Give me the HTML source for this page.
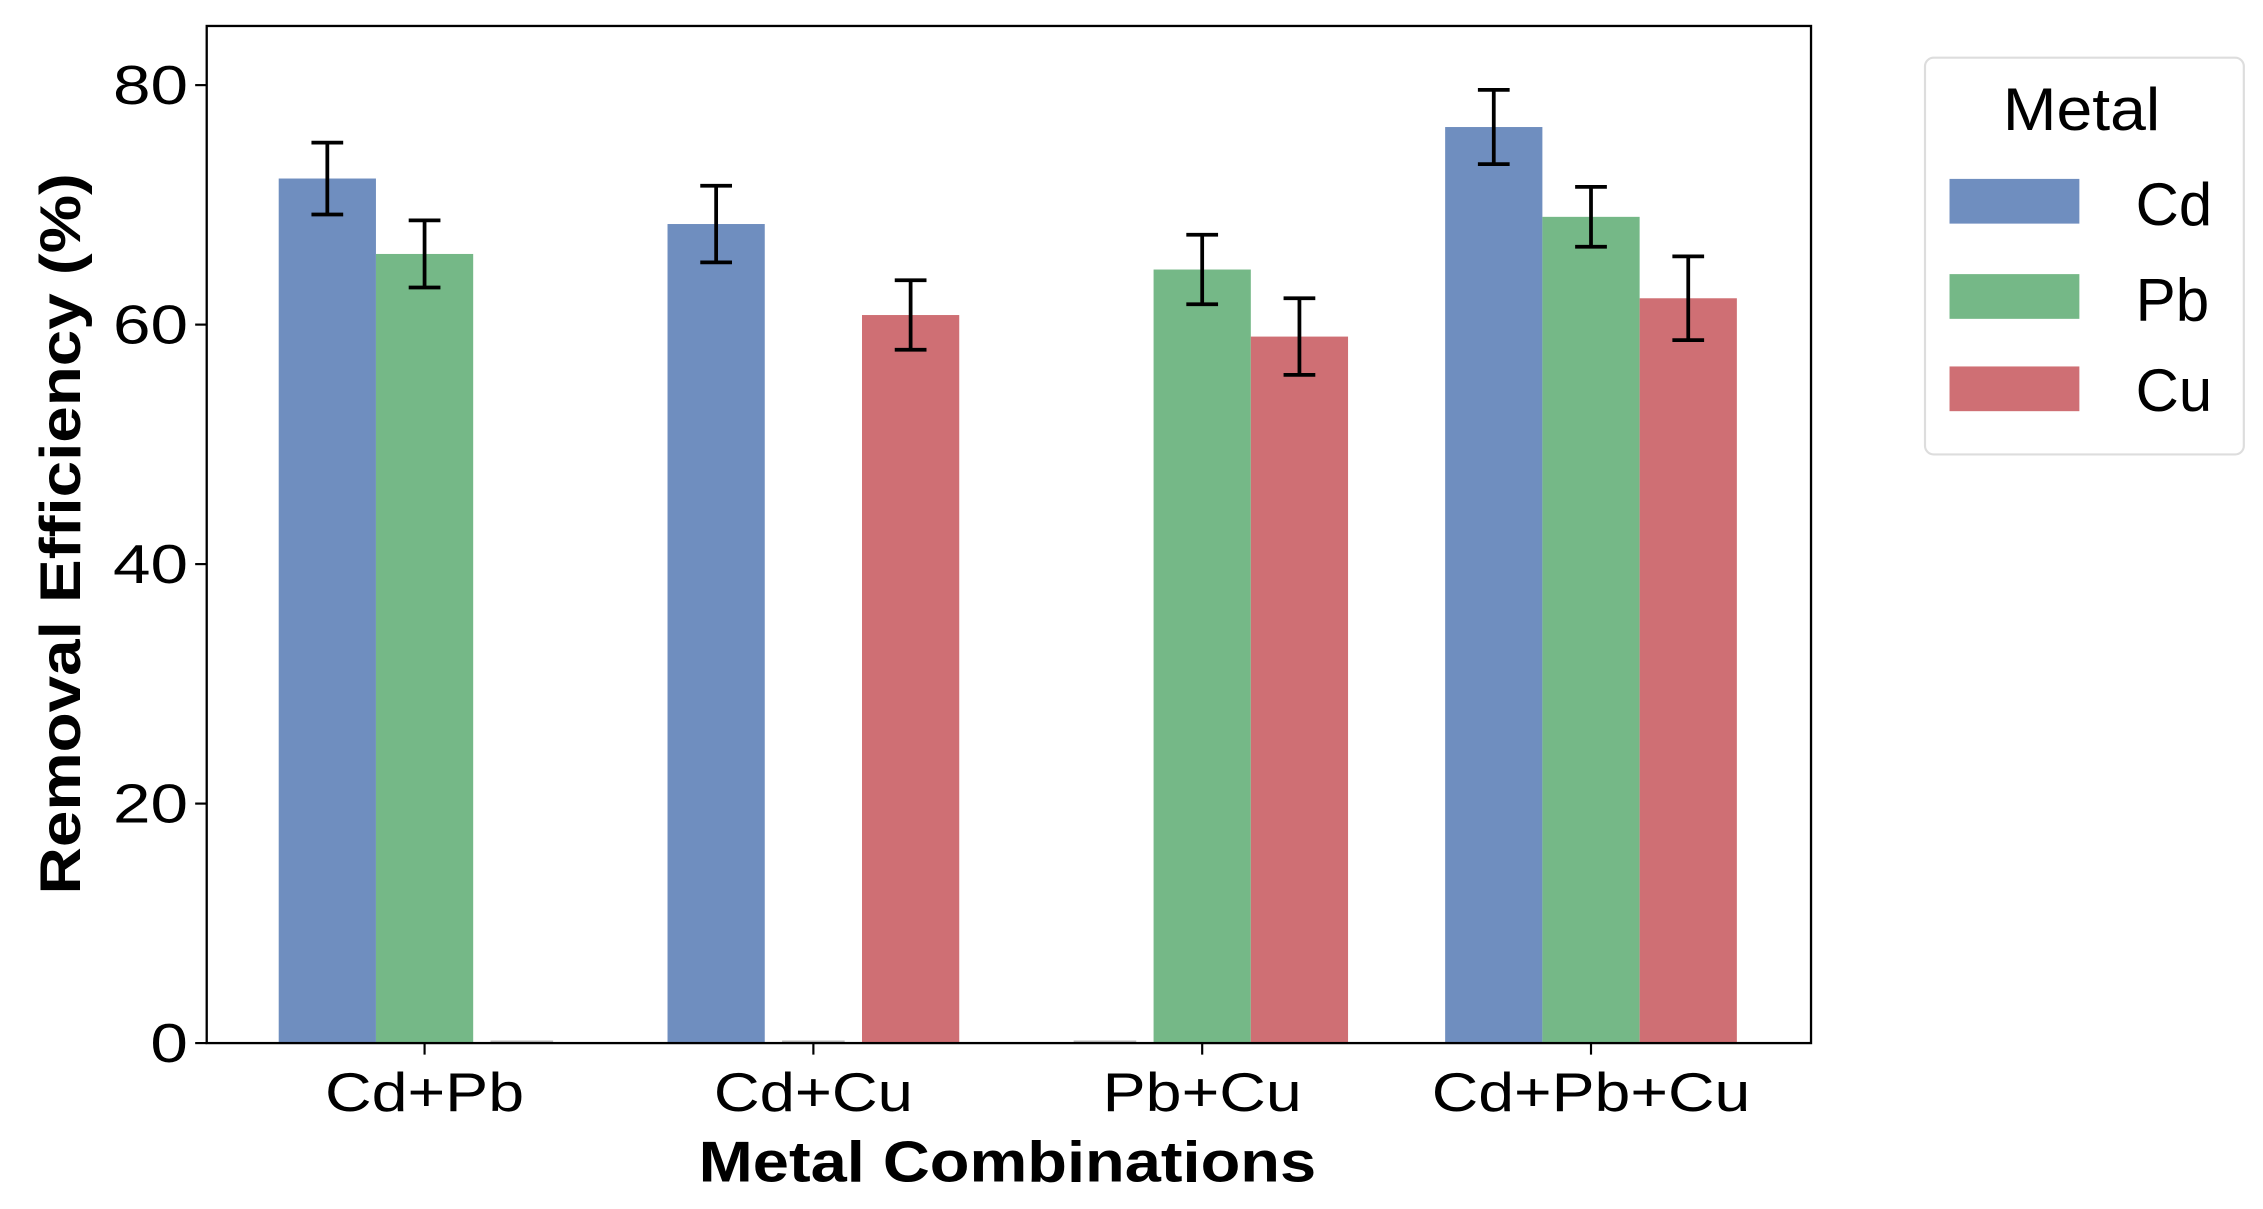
<!DOCTYPE html>
<html><head><meta charset="utf-8"><style>html,body{margin:0;padding:0;background:#fff}svg{display:block}text{font-family:"Liberation Sans",Arial,sans-serif}</style></head>
<body>
<svg id="chart" width="2263" height="1209" viewBox="0 0 1568 838" xmlns="http://www.w3.org/2000/svg">
<rect x="0" y="0" width="1568" height="838" fill="#fff"/>
<g id="bars"></g>
<g id="yaxis"></g>
<g id="xaxis"></g>
<rect x="143" y="18" width="1112" height="705" fill="none" stroke="#000" stroke-width="1.6"/>
<text transform="translate(55,370) rotate(-90)" text-anchor="middle" font-size="40" font-weight="bold" textLength="500" lengthAdjust="spacingAndGlyphs">Removal Efficiency (%)</text>
<text x="698" y="819" text-anchor="middle" font-size="40" font-weight="bold" textLength="428" lengthAdjust="spacingAndGlyphs">Metal Combinations</text>
<g>
<rect x="1334" y="40" width="221" height="275" rx="6" fill="#fff" stroke="#ddd" stroke-width="1.5"/>
<text x="1388" y="90" font-size="42" textLength="109" lengthAdjust="spacingAndGlyphs">Metal</text>
<rect x="1351" y="124" width="90" height="31" fill="#6F8EBF"/>
<text x="1480" y="156" font-size="42" textLength="53" lengthAdjust="spacingAndGlyphs">Cd</text>
<rect x="1351" y="190" width="90" height="31" fill="#75B887"/>
<text x="1480" y="222" font-size="42" textLength="51" lengthAdjust="spacingAndGlyphs">Pb</text>
<rect x="1351" y="254" width="90" height="31" fill="#CF6F74"/>
<text x="1480" y="285" font-size="42" textLength="53" lengthAdjust="spacingAndGlyphs">Cu</text>
</g>
</svg>
<script>
const categories = ["Cd+Pb","Cd+Cu","Pb+Cu","Cd+Pb+Cu"];
const seriesNames = ["Cd","Pb","Cu"];
const cdValues = [72.2, 68.4, 0, 76.5];
const pbValues = [65.9, 0, 64.6, 69.0];
const cuValues = [0, 60.8, 59.0, 62.2];
const cdErrors = [3.0, 3.2, 0, 3.1];
const pbErrors = [2.8, 0, 2.9, 2.5];
const cuErrors = [0, 2.9, 3.2, 3.5];
const yTicks = [0, 20, 40, 60, 80];

const NS = "http://www.w3.org/2000/svg";
const colors = ["#6F8EBF","#75B887","#CF6F74"];
const values = [cdValues, pbValues, cuValues];
const errors = [cdErrors, pbErrors, cuErrors];
function y(v){ return 723 - v * 8.3; }
function xc(i){ return 294 + i * 269.5; }
const bw = 67.4;
function mk(tag, attrs, parent){ const e=document.createElementNS(NS,tag); for(const k in attrs) e.setAttribute(k,attrs[k]); parent.appendChild(e); return e; }
const gb = document.getElementById("bars");
const gy = document.getElementById("yaxis");
const gx = document.getElementById("xaxis");
for (let s=0;s<3;s++){
  for (let i=0;i<categories.length;i++){
    const v = values[s][i], er = errors[s][i];
    const cx = xc(i) + (s-1)*bw;
    if (v > 0) {
      const r = mk("rect",{x:cx-bw/2,y:y(v),width:bw,height:y(0)-y(v),fill:colors[s]},gb);
      
      
      const e = mk("path",{d:`M${cx} ${y(v+er)}V${y(v-er)}M${cx-11} ${y(v+er)}H${cx+11}M${cx-11} ${y(v-er)}H${cx+11}`,stroke:"#000","stroke-width":2.6,fill:"none"},gb);
      
      
    } else {
      const z = mk("line",{x1:cx-bw/2+12,x2:cx+bw/2-12,y1:y(0)-1,y2:y(0)-1,stroke:"#bbb","stroke-width":1.5},gb);
      
      
    }
  }
}
yTicks.forEach(t=>{
  const l = mk("line",{x1:135,x2:143,y1:y(t),y2:y(t),stroke:"#000","stroke-width":1.5},gy);
  
  
  const s = String(t);
  const tx = mk("text",{x:130,y:y(t)+13,"text-anchor":"end","font-size":38,textLength:26*s.length,lengthAdjust:"spacingAndGlyphs"},gy);
  tx.textContent = s;
  
  
});
categories.forEach((c,i)=>{
  const l = mk("line",{x1:xc(i),x2:xc(i),y1:723,y2:731,stroke:"#000","stroke-width":1.5},gx);
  
  
  const tx = mk("text",{x:xc(i),y:770,"text-anchor":"middle","font-size":38,textLength:c.length*27.6,lengthAdjust:"spacingAndGlyphs"},gx);
  tx.textContent = c;
  
  
});
</script>
</body></html>
